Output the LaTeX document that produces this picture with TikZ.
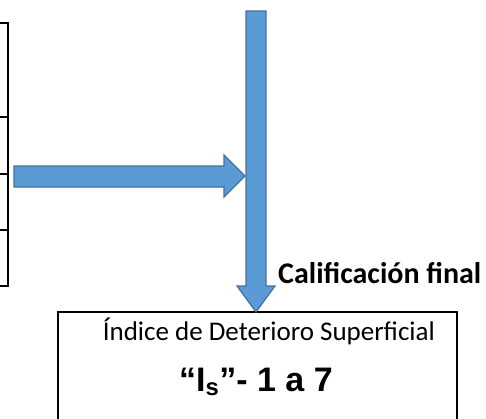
\documentclass[tikz,border=0pt]{standalone}
\usepackage{fontspec}
\setmainfont{Carlito}
\newfontfamily\arialfont{Liberation Sans}
\definecolor{arrowfill}{HTML}{5B9BD5}
\definecolor{arrowline}{HTML}{41719C}
\tikzset{
  blockarrow/.style={fill=arrowfill, draw=arrowline, line width=1.2pt, line join=miter},
  tablebox/.style={draw=black, line width=1.6pt}
}
\begin{document}
\begin{tikzpicture}[x=1pt, y=-1pt]
            \useasboundingbox (0,0) rectangle (486,418);
            \clip (0,0) rectangle (486,418);
            % tabla de la izquierda
            \draw [tablebox] (-20,23) -- (8,23) -- (8,286) -- (-20,286);
            \draw [tablebox] (-20,117) -- (8,117);
            \draw [tablebox] (-20,174) -- (8,174);
            \draw [tablebox] (-20,230) -- (8,230);
            % recuadro final
            \draw [tablebox] (58,440) -- (58,312) -- (457,312) -- (457,440);
            \node [anchor=east, inner xsep=0pt] (indice) at (435,331) {\fontsize{27}{32}\selectfont Índice de Deterioro Superficial};
            \node (escala) at (256,382) {\fontsize{34}{40}\selectfont\arialfont\bfseries “I\textsubscript{s}”- 1 a 7};
            % flechas
            \draw [blockarrow] (14,166) -- (224,166) -- (224,155) -- (245,176) -- (224,197) -- (224,187) -- (14,187) -- cycle;
            \draw [blockarrow] (246,11) -- (266,11) -- (266,286) -- (275,286) -- (256,312) -- (237,286) -- (246,286) -- cycle;
            \node [anchor=west, inner xsep=0pt] (califica) at (278,273) {\fontsize{30}{36}\selectfont\bfseries Calificación final};
        \end{tikzpicture}
\end{document}
